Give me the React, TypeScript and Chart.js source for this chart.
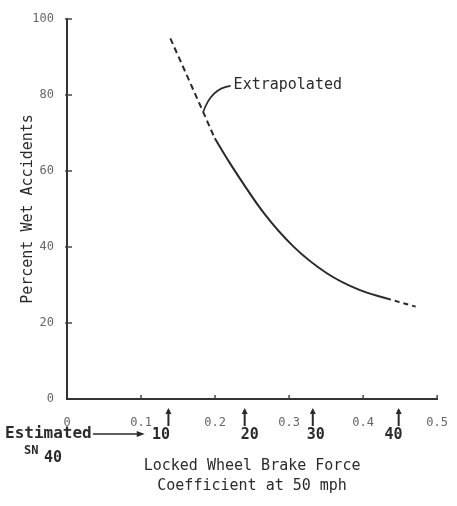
import React, { useEffect, useRef } from "react";
import { Chart, registerables } from "chart.js";

Chart.register(...registerables);

// Curve: extrapolated (dashed) upper part, measured (solid) part, extrapolated lower tail
const upperX = [0.1396, 0.168, 0.184, 0.1996];
const upperY = [94.9, 82.5, 75.5, 68.6];
const solidX = [0.1996, 0.2196, 0.266, 0.306, 0.351, 0.395, 0.431];
const solidY = [68.6, 62.2, 48.9, 40.1, 33.1, 28.7, 26.5];
const lowerX = [0.431, 0.471];
const lowerY = [26.5, 24.3];

// Secondary "Estimated SN40" scale markers (in brake-force-coefficient units)
const snArrowX = [0.137, 0.24, 0.332, 0.448];
const snLabelX = [0.127, 0.247, 0.336, 0.441];
const snLabels = ["10", "20", "30", "40"];

// Annotation
const annotText = "Extrapolated";
const annotFrom = { x: 0.184, y: 75.5 };
const annotCtrl = { x: 0.195, y: 81.8 };
const annotTo = { x: 0.221, y: 82.4 };

const xTicks = [0, 0.1, 0.2, 0.3, 0.4, 0.5];
const yTicks = [0, 20, 40, 60, 80, 100];

const MONO = "'DejaVu Sans Mono', 'Liberation Mono', monospace";
const INK = "#2a2a2a";

const toPts = (xs: number[], ys: number[]) => xs.map((x, i) => ({ x, y: ys[i] }));

const extrasPlugin = {
  id: "extras",
  afterDraw(chart: any) {
    const ctx = chart.ctx as CanvasRenderingContext2D;
    const xs = chart.scales.x;
    const ys = chart.scales.y;
    const area = chart.chartArea;
    ctx.save();
    ctx.strokeStyle = "#444";
    ctx.lineWidth = 1.5;
    // inner tick marks
    xTicks.forEach((v) => {
      if (v === 0) return;
      const px = xs.getPixelForValue(v);
      ctx.beginPath();
      ctx.moveTo(px, area.bottom);
      ctx.lineTo(px, area.bottom - 4);
      ctx.stroke();
    });
    yTicks.forEach((v) => {
      if (v === 0) return;
      const py = ys.getPixelForValue(v);
      ctx.beginPath();
      ctx.moveTo(area.left - 2, py);
      ctx.lineTo(area.left + 5, py);
      ctx.stroke();
    });

    // annotation leader + text
    ctx.strokeStyle = INK;
    ctx.lineWidth = 1.6;
    const fx = xs.getPixelForValue(annotFrom.x), fy = ys.getPixelForValue(annotFrom.y);
    const cx = xs.getPixelForValue(annotCtrl.x), cy = ys.getPixelForValue(annotCtrl.y);
    const tx = xs.getPixelForValue(annotTo.x), ty = ys.getPixelForValue(annotTo.y);
    ctx.beginPath();
    ctx.moveTo(fx, fy);
    ctx.quadraticCurveTo(cx, cy, tx, ty);
    ctx.stroke();
    ctx.fillStyle = INK;
    ctx.font = `15px ${MONO}`;
    ctx.textAlign = "left";
    ctx.textBaseline = "middle";
    ctx.fillText(annotText, tx + 3, ty - 1);

    // SN40 arrows
    const base = area.bottom;
    ctx.lineWidth = 2;
    snArrowX.forEach((v) => {
      const px = xs.getPixelForValue(v);
      ctx.beginPath();
      ctx.moveTo(px, base + 27);
      ctx.lineTo(px, base + 11);
      ctx.stroke();
      ctx.beginPath();
      ctx.moveTo(px - 3, base + 15);
      ctx.lineTo(px, base + 9);
      ctx.lineTo(px + 3, base + 15);
      ctx.closePath();
      ctx.fill();
    });
    ctx.font = `bold 15px ${MONO}`;
    ctx.textAlign = "center";
    snLabelX.forEach((v, i) => {
      ctx.fillText(snLabels[i], xs.getPixelForValue(v), base + 36);
    });

    // "Estimated ——> " and SN40
    ctx.font = `bold 16px ${MONO}`;
    ctx.textAlign = "left";
    ctx.fillText("Estimated", 5, base + 35);
    const ax0 = 93, ax1 = xs.getPixelForValue(0.105);
    ctx.lineWidth = 1.5;
    ctx.beginPath();
    ctx.moveTo(ax0, base + 35);
    ctx.lineTo(ax1 - 6, base + 35);
    ctx.stroke();
    ctx.beginPath();
    ctx.moveTo(ax1, base + 35);
    ctx.lineTo(ax1 - 8, base + 32);
    ctx.lineTo(ax1 - 8, base + 38);
    ctx.closePath();
    ctx.fill();
    ctx.font = `bold 12px ${MONO}`;
    ctx.fillText("SN", 24, base + 52);
    ctx.font = `bold 15px ${MONO}`;
    ctx.fillText("40", 44, base + 59);
    ctx.restore();
  },
};

export default function App() {
  const ref = useRef<HTMLCanvasElement | null>(null);
  useEffect(() => {
    document.body.style.margin = "0";
    const canvas = ref.current!;
    const lineBase = {
      borderColor: INK,
      borderWidth: 2,
      pointRadius: 0,
      fill: false,
      cubicInterpolationMode: "monotone" as const,
    };
    const chart = new Chart(canvas, {
      type: "line",
      data: {
        datasets: [
          { ...lineBase, data: toPts(upperX, upperY), borderDash: [6, 4] },
          { ...lineBase, data: toPts(solidX, solidY) },
          { ...lineBase, data: toPts(lowerX, lowerY), borderDash: [5, 4] },
        ],
      },
      options: {
        responsive: false,
        animation: false,
        devicePixelRatio: 1,
        layout: { padding: { left: 0, top: 19, right: 15, bottom: 0 } },
        plugins: { legend: { display: false }, tooltip: { enabled: false } },
        scales: {
          x: {
            type: "linear",
            min: 0,
            max: 0.5,
            afterFit: (s: any) => {
              s.height = 107;
            },
            afterBuildTicks: (s: any) => {
              s.ticks = xTicks.map((v) => ({ value: v }));
            },
            ticks: {
              padding: 9,
              maxRotation: 0,
              autoSkip: false,
              color: "#666",
              font: { family: MONO, size: 12 },
              callback: (v: any) => (Number(v) === 0 ? "0" : Number(v).toFixed(1)),
            },
            grid: { display: false },
            border: { display: true, color: "#333", width: 2 },
            title: {
              display: true,
              text: ["Locked Wheel Brake Force", "Coefficient at 50 mph"],
              color: INK,
              font: { family: MONO, size: 15, lineHeight: 20 / 15 },
              padding: { top: 0, bottom: 10 },
            },
          },
          y: {
            type: "linear",
            min: 0,
            max: 100,
            afterFit: (s: any) => {
              s.width = 67;
            },
            afterBuildTicks: (s: any) => {
              s.ticks = yTicks.map((v) => ({ value: v }));
            },
            ticks: {
              padding: 5,
              autoSkip: false,
              color: "#666",
              font: { family: MONO, size: 12 },
            },
            grid: { display: false },
            border: { display: true, color: "#333", width: 2 },
            title: {
              display: true,
              text: "Percent Wet Accidents",
              color: INK,
              font: { family: MONO, size: 15, lineHeight: 1.2 },
              padding: { top: 19, bottom: 0 },
            },
          },
        },
      },
      plugins: [extrasPlugin],
    });
    return () => chart.destroy();
  }, []);
  return (
    <canvas
      ref={ref}
      width={457}
      height={506}
      style={{ display: "block", width: 457, height: 506, background: "#fff" }}
    />
  );
}
